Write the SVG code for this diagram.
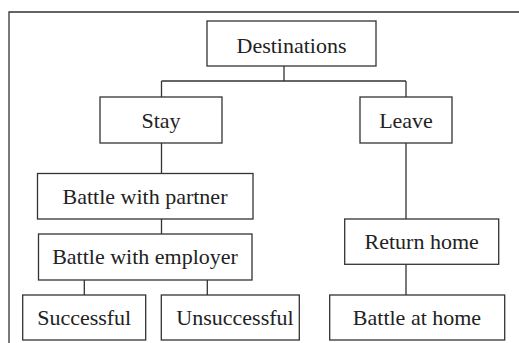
<svg xmlns="http://www.w3.org/2000/svg" width="519" height="343" viewBox="0 0 519 343">
<style>
.box{fill:#fff;stroke:#333;stroke-width:1.3}
.lbl{font-family:"Liberation Serif","Times New Roman",serif;font-size:22px;fill:#222;text-anchor:middle}
.conn{stroke:#333;stroke-width:1.3;fill:none}
</style>
<rect width="519" height="343" fill="#fff"/>
<path class="conn" d="M9,343 V12 H519"/>
<g id="connectors">
<path class="conn" d="M284,66 V81 M161.5,81 H406 M161.5,81 V97 M406,81 V97"/>
<path class="conn" d="M161.5,143 V173 M161.5,219 V234"/>
<path class="conn" d="M406,143 V219 M406,264 V295"/>
<path class="conn" d="M84.3,280 V295 M207.3,280 V295"/>
</g>
<g id="destinations"><rect class="box" x="207" y="21" width="169" height="45"/><text class="lbl" x="291.5" y="52.5">Destinations</text></g>
<g id="stay"><rect class="box" x="100" y="97" width="122" height="46"/><text class="lbl" x="161" y="128">Stay</text></g>
<g id="leave"><rect class="box" x="360" y="97" width="92" height="46"/><text class="lbl" x="406" y="128">Leave</text></g>
<g id="partner"><rect class="box" x="37.5" y="173.5" width="215.5" height="45.5"/><text class="lbl" x="145" y="204">Battle with partner</text></g>
<g id="employer"><rect class="box" x="38.5" y="234" width="213.5" height="46"/><text class="lbl" x="145" y="264">Battle with employer</text></g>
<g id="return"><rect class="box" x="344.7" y="219" width="154" height="45.3"/><text class="lbl" x="421.7" y="248.5">Return home</text></g>
<g id="successful"><rect class="box" x="22.7" y="295" width="123" height="45"/><text class="lbl" x="84.2" y="325">Successful</text></g>
<g id="unsuccessful"><rect class="box" x="161.3" y="295" width="138" height="45"/><text class="lbl" x="235" y="325">Unsuccessful</text></g>
<g id="battlehome"><rect class="box" x="329.7" y="295" width="175" height="45"/><text class="lbl" x="417" y="325">Battle at home</text></g>
</svg>
